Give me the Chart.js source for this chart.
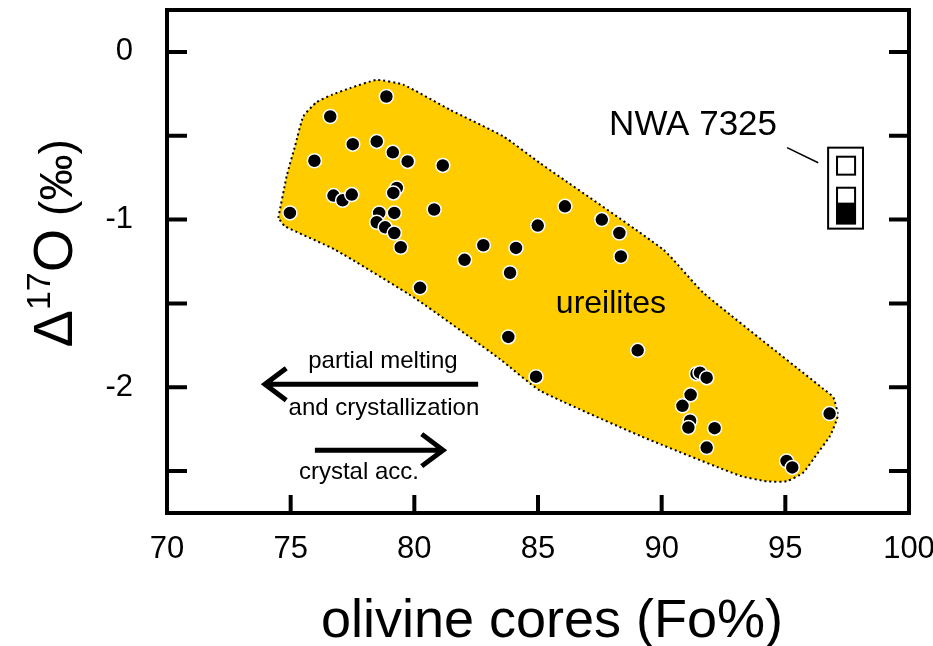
<!DOCTYPE html>
<html>
<head>
<meta charset="utf-8">
<script src="https://cdn.jsdelivr.net/npm/chart.js@4/dist/chart.umd.min.js"></script>
<style>
  body { margin: 0; background: #fff; }
  #myChart { display: block; }
</style>
</head>
<body>
<canvas id="myChart" width="933" height="646"></canvas>
<script>
// ureilite olivine cores vs D17O
const ureiliteFo = [78.87, 76.60, 77.51, 78.48, 79.13, 79.73, 81.15, 75.96, 79.29, 79.15,
  76.73, 77.10, 77.47, 74.97, 80.80, 78.58, 79.19, 78.48, 78.82, 79.19,
  79.45, 84.99, 82.79, 84.11, 82.03, 83.87, 80.23, 83.80, 84.92, 86.09,
  87.58, 88.29, 88.35, 89.03, 91.41, 91.55, 91.82, 91.17, 90.84, 91.15,
  91.08, 92.14, 91.82, 96.79, 95.05, 95.28];
const ureiliteD17O = [-0.266, -0.385, -0.55, -0.534, -0.599, -0.653, -0.677, -0.649, -0.811, -0.841,
  -0.857, -0.885, -0.851, -0.96, -0.94, -0.96, -0.96, -1.016, -1.046, -1.08,
  -1.165, -1.036, -1.153, -1.169, -1.24, -1.317, -1.407, -1.70, -1.937, -0.921,
  -1.0, -1.08, -1.22, -1.78, -1.919, -1.913, -1.943, -2.045, -2.111, -2.2,
  -2.24, -2.244, -2.36, -2.157, -2.44, -2.478];

// outline of the ureilite field
const fieldFo = [74.50, 74.84, 75.18, 75.51, 76.05, 76.66, 77.40, 78.48, 79.56, 81.44,
  83.60, 85.08, 90.07, 91.69, 96.54, 96.94, 97.12, 96.81, 96.27, 95.73,
  95.05, 94.25, 93.17, 89.13, 85.08, 83.47, 80.10, 76.80, 74.77, 74.50];
const fieldD17O = [-0.99, -0.74, -0.56, -0.385, -0.30, -0.256, -0.216, -0.167, -0.196, -0.345,
  -0.504, -0.663, -1.18, -1.437, -2.01, -2.06, -2.17, -2.29, -2.40, -2.508,
  -2.561, -2.561, -2.528, -2.29, -2.02, -1.833, -1.476, -1.18, -1.04, -0.99];

const xTickValues = [70, 75, 80, 85, 90, 95, 100];
const yTickValues = [0, -1, -2];
const xTickMarks = [75, 80, 85, 90, 95];
const yTickMarks = [0, -0.5, -1, -1.5, -2, -2.5];

const FONT = '"Liberation Sans", Arial, Helvetica, sans-serif';

const pointData = ureiliteFo.map((x, i) => ({ x: x, y: ureiliteD17O[i] }));
const fieldData = fieldFo.map((x, i) => ({ x: x, y: fieldD17O[i] }));

function noPad(s) {
  s.paddingLeft = 0; s.paddingRight = 0; s.paddingTop = 0; s.paddingBottom = 0;
}

// frame, inward ticks, titles and annotations
const decorPlugin = {
  id: 'decor',
  afterDraw(chart) {
    const ctx = chart.ctx;
    const xs = chart.scales.x, ys = chart.scales.y;
    const a = chart.chartArea;
    const px = v => xs.getPixelForValue(v);
    const py = v => ys.getPixelForValue(v);

    ctx.save();
    ctx.strokeStyle = '#000';
    ctx.fillStyle = '#000';
    ctx.lineWidth = 4;
    ctx.lineCap = 'square';
    ctx.strokeRect(a.left, a.top, a.right - a.left, a.bottom - a.top);
    ctx.lineCap = 'butt';
    ctx.beginPath();
    yTickMarks.forEach(v => {
      ctx.moveTo(a.left, py(v)); ctx.lineTo(a.left + 20, py(v));
      ctx.moveTo(a.right, py(v)); ctx.lineTo(a.right - 20, py(v));
    });
    xTickMarks.forEach(v => {
      ctx.moveTo(px(v), a.bottom); ctx.lineTo(px(v), a.bottom - 18);
    });
    ctx.stroke();

    // x title
    ctx.font = '54px ' + FONT;
    ctx.textAlign = 'center';
    ctx.textBaseline = 'alphabetic';
    ctx.fillText('olivine cores (Fo%)', (a.left + a.right) / 2 + 14, a.bottom + 124);

    // y title, rotated
    ctx.save();
    ctx.translate(a.left - 95, (a.top + a.bottom) / 2 + 86);
    ctx.rotate(-Math.PI / 2);
    ctx.textAlign = 'left';
    let cx = 0;
    ctx.font = '56px ' + FONT;
    ctx.fillText('\u0394', cx, 0); cx += ctx.measureText('\u0394').width;
    ctx.font = '34px ' + FONT;
    ctx.fillText('17', cx, -22); cx += ctx.measureText('17').width;
    ctx.font = '56px ' + FONT;
    ctx.fillText('O', cx, 0); cx += ctx.measureText('O').width;
    ctx.font = '46px ' + FONT;
    ctx.fillText(' (\u2030)', cx, 0);
    ctx.restore();

    // labels inside the plot
    ctx.textAlign = 'center';
    ctx.textBaseline = 'middle';
    ctx.font = '32px ' + FONT;
    ctx.fillText('ureilites', px(87.95), py(-1.506));
    ctx.font = '35px ' + FONT;
    ctx.fillText('NWA 7325', px(91.27), py(-0.435));
    ctx.font = '24px ' + FONT;
    ctx.fillText('partial melting', px(78.73), py(-1.845));
    ctx.fillText('and crystallization', px(78.77), py(-2.125));
    ctx.fillText('crystal acc.', px(77.76), py(-2.506));

    // arrows
    ctx.lineWidth = 5;
    ctx.beginPath();
    ctx.moveTo(px(82.58), py(-1.982)); ctx.lineTo(px(74.05), py(-1.982));
    ctx.moveTo(px(74.82), py(-1.982) - 16); ctx.lineTo(px(73.96), py(-1.982)); ctx.lineTo(px(74.82), py(-1.982) + 16);
    ctx.moveTo(px(75.98), py(-2.375)); ctx.lineTo(px(81.05), py(-2.375));
    ctx.moveTo(px(80.30), py(-2.375) - 16); ctx.lineTo(px(81.16), py(-2.375)); ctx.lineTo(px(80.30), py(-2.375) + 16);
    ctx.stroke();

    // NWA 7325 symbol box
    ctx.lineWidth = 1.5;
    ctx.beginPath();
    ctx.moveTo(px(95.07), py(-0.571)); ctx.lineTo(px(96.33), py(-0.661));
    ctx.stroke();
    ctx.lineWidth = 2;
    ctx.strokeRect(px(96.73), py(-0.571), px(98.14) - px(96.73), py(-1.054) - py(-0.571));
    ctx.strokeRect(px(97.09), py(-0.625), px(97.82) - px(97.09), py(-0.732) - py(-0.625));
    ctx.fillRect(px(97.09), py(-0.899), px(97.82) - px(97.09), py(-1.024) - py(-0.899));
    ctx.strokeRect(px(97.09), py(-0.81), px(97.82) - px(97.09), py(-1.024) - py(-0.81));
    ctx.restore();
  }
};

const chartCanvas = document.getElementById('myChart').getContext('2d');

const myChart = new Chart(chartCanvas, {
  type: 'scatter',
  data: {
    datasets: [
      {
        label: 'ureilite field',
        data: fieldData,
        showLine: true,
        fill: 'shape',
        tension: 0.15,
        backgroundColor: '#FFCC00',
        borderColor: '#000',
        borderWidth: 2,
        borderDash: [2, 3],
        pointRadius: 0,
        order: 2
      },
      {
        label: 'ureilites',
        data: pointData,
        pointStyle: 'circle',
        pointRadius: 7,
        backgroundColor: '#000',
        borderColor: '#fff',
        borderWidth: 1.5,
        order: 1
      }
    ]
  },
  options: {
    responsive: false,
    animation: false,
    devicePixelRatio: 1,
    layout: { padding: { left: 0, right: 24, top: 10, bottom: 0 } },
    plugins: {
      legend: { display: false },
      tooltip: { enabled: false }
    },
    scales: {
      x: {
        type: 'linear',
        min: 70,
        max: 100,
        afterBuildTicks: s => { s.ticks = xTickValues.map(v => ({ value: v })); },
        afterFit: s => { s.height = 133; noPad(s); },
        grid: { display: false, drawTicks: false },
        border: { display: false },
        ticks: {
          color: '#000',
          font: { family: FONT, size: 31 },
          padding: 18,
          maxRotation: 0
        }
      },
      y: {
        type: 'linear',
        min: -2.75,
        max: 0.25,
        afterBuildTicks: s => { s.ticks = yTickValues.map(v => ({ value: v })); },
        afterFit: s => { s.width = 167; noPad(s); },
        grid: { display: false, drawTicks: false },
        border: { display: false },
        ticks: {
          color: '#000',
          font: { family: FONT, size: 31 },
          padding: 34
        }
      }
    }
  },
  plugins: [decorPlugin]
});
</script>
</body>
</html>
